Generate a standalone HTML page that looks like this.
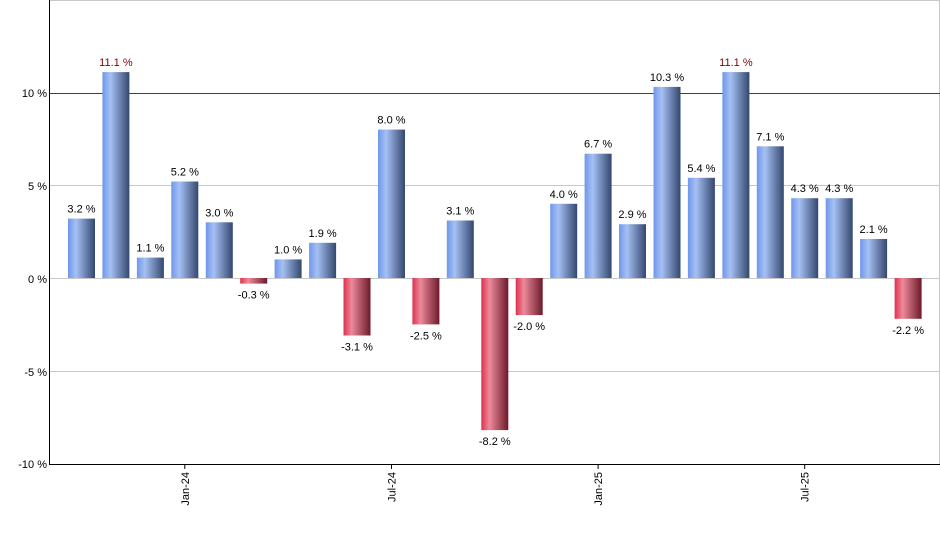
<!DOCTYPE html>
<html><head><meta charset="utf-8"><style>body{margin:0;background:#fff}svg{display:block}text{font-family:"Liberation Sans",Arial,sans-serif;font-size:11px;fill:#000}</style></head><body>
<svg width="940" height="550" xmlns="http://www.w3.org/2000/svg">
<defs>
<linearGradient id="b" x1="0" x2="1" y1="0" y2="0"><stop offset="0" stop-color="#6f97ea"/><stop offset="0.3" stop-color="#a5c0f3"/><stop offset="1" stop-color="#34476e"/></linearGradient>
<linearGradient id="r" x1="0" x2="1" y1="0" y2="0"><stop offset="0" stop-color="#e0304f"/><stop offset="0.3" stop-color="#ec8a9b"/><stop offset="1" stop-color="#6c1a2a"/></linearGradient>
</defs>
<g stroke="#c8c8c8" stroke-width="1">
<line x1="50" y1="0.5" x2="940" y2="0.5"/>
<line x1="50" y1="185.5" x2="940" y2="185.5"/>
<line x1="50" y1="278.5" x2="940" y2="278.5"/>
<line x1="50" y1="371.5" x2="940" y2="371.5"/>
<line x1="939.5" y1="0" x2="939.5" y2="464"/>
</g>
<line x1="50" y1="93.5" x2="940" y2="93.5" stroke="#1a5a1a"/>
<g fill="url(#b)">
<rect x="68" y="218.6" width="27" height="59.4"/>
<rect x="102.4" y="72.1" width="27" height="205.9"/>
<rect x="136.9" y="257.6" width="27" height="20.4"/>
<rect x="171.3" y="181.5" width="27" height="96.5"/>
<rect x="205.8" y="222.3" width="27" height="55.7"/>
<rect x="274.6" y="259.4" width="27" height="18.6"/>
<rect x="309.1" y="242.8" width="27" height="35.2"/>
<rect x="378" y="129.6" width="27" height="148.4"/>
<rect x="446.8" y="220.5" width="27" height="57.5"/>
<rect x="550.2" y="203.8" width="27" height="74.2"/>
<rect x="584.6" y="153.7" width="27" height="124.3"/>
<rect x="619" y="224.2" width="27" height="53.8"/>
<rect x="653.5" y="86.9" width="27" height="191.1"/>
<rect x="687.9" y="177.8" width="27" height="100.2"/>
<rect x="722.4" y="72.1" width="27" height="205.9"/>
<rect x="756.8" y="146.3" width="27" height="131.7"/>
<rect x="791.2" y="198.2" width="27" height="79.8"/>
<rect x="825.7" y="198.2" width="27" height="79.8"/>
<rect x="860.1" y="239" width="27" height="39"/>
</g>
<g fill="url(#r)">
<rect x="240.2" y="278" width="27" height="5.6"/>
<rect x="343.5" y="278" width="27" height="57.5"/>
<rect x="412.4" y="278" width="27" height="46.4"/>
<rect x="481.3" y="278" width="27" height="152.1"/>
<rect x="515.7" y="278" width="27" height="37.1"/>
<rect x="894.6" y="278" width="27" height="40.8"/>
</g>
<g text-anchor="middle">
<text x="81.5" y="212.6">3.2 %</text>
<text x="115.9" y="66.1" style="fill:#800000">11.1 %</text>
<text x="150.4" y="251.6">1.1 %</text>
<text x="184.8" y="175.5">5.2 %</text>
<text x="219.3" y="216.3">3.0 %</text>
<text x="253.7" y="298.6">-0.3 %</text>
<text x="288.1" y="253.4">1.0 %</text>
<text x="322.6" y="236.8">1.9 %</text>
<text x="357" y="350.5">-3.1 %</text>
<text x="391.5" y="123.6">8.0 %</text>
<text x="425.9" y="339.4">-2.5 %</text>
<text x="460.3" y="214.5">3.1 %</text>
<text x="494.8" y="445.1">-8.2 %</text>
<text x="529.2" y="330.1">-2.0 %</text>
<text x="563.7" y="197.8">4.0 %</text>
<text x="598.1" y="147.7">6.7 %</text>
<text x="632.5" y="218.2">2.9 %</text>
<text x="667" y="80.9">10.3 %</text>
<text x="701.4" y="171.8">5.4 %</text>
<text x="735.9" y="66.1" style="fill:#800000">11.1 %</text>
<text x="770.3" y="140.3">7.1 %</text>
<text x="804.7" y="192.2">4.3 %</text>
<text x="839.2" y="192.2">4.3 %</text>
<text x="873.6" y="233">2.1 %</text>
<text x="908.1" y="333.8">-2.2 %</text>
</g>
<g text-anchor="end">
<text x="47" y="97">10 %</text>
<text x="47" y="190">5 %</text>
<text x="47" y="283">0 %</text>
<text x="47" y="376">-5 %</text>
<text x="47" y="468">-10 %</text>
</g>
<g stroke="#000" stroke-width="1">
<line x1="49.5" y1="0" x2="49.5" y2="464"/>
<line x1="49" y1="464.5" x2="940" y2="464.5"/>
<line x1="184.8" y1="464" x2="184.8" y2="469"/>
<line x1="391.5" y1="464" x2="391.5" y2="469"/>
<line x1="598.1" y1="464" x2="598.1" y2="469"/>
<line x1="804.7" y1="464" x2="804.7" y2="469"/>
</g>
<g text-anchor="end">
<text transform="translate(189,472) rotate(-90)">Jan-24</text>
<text transform="translate(395.5,472) rotate(-90)">Jul-24</text>
<text transform="translate(602,472) rotate(-90)">Jan-25</text>
<text transform="translate(808.7,472) rotate(-90)">Jul-25</text>
</g>
</svg>
</body></html>
